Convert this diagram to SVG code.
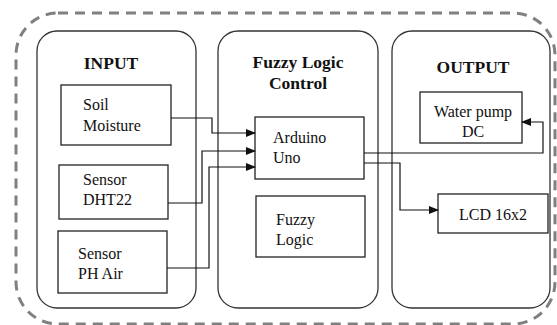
<svg xmlns="http://www.w3.org/2000/svg" width="557" height="325" viewBox="0 0 557 325">
<style>
.panel{fill:#fff;stroke:#333;stroke-width:1.3}
.box{fill:#fff;stroke:#222;stroke-width:1.3}
.t{font-family:'Liberation Serif','DejaVu Serif',serif;font-size:16px;fill:#111}
.h{font-family:'Liberation Serif','DejaVu Serif',serif;font-size:17.5px;font-weight:bold;fill:#111}
.c{fill:none;stroke:#111;stroke-width:1.2}
</style>
<defs>
<marker id="ah" markerWidth="10" markerHeight="8" refX="9" refY="4" orient="auto" markerUnits="userSpaceOnUse">
<path d="M0,0 L10,4 L0,8 Z" fill="#111"/>
</marker>
</defs>
<rect width="557" height="325" fill="#fff"/>
<rect id="outer" x="16" y="13" width="539" height="311" rx="42" fill="none" stroke="#808080" stroke-width="3" stroke-dasharray="10,7"/>
<g id="panel-input"><rect class="panel" x="37" y="31" width="159" height="277" rx="20"/><text class="h" x="111" y="69" text-anchor="middle">INPUT</text></g>
<g id="panel-fuzzy"><rect class="panel" x="218" y="31" width="160" height="277" rx="20"/><text class="h" x="298" y="68" text-anchor="middle">Fuzzy Logic</text><text class="h" x="298" y="89" text-anchor="middle">Control</text></g>
<g id="panel-output"><rect class="panel" x="392" y="31" width="158" height="277" rx="20"/><text class="h" x="473" y="73" text-anchor="middle">OUTPUT</text></g>
<g id="soil"><rect class="box" x="61" y="85" width="110" height="60"/><text class="t" x="83" y="110">Soil</text><text class="t" x="83" y="131">Moisture</text></g>
<g id="dht22"><rect class="box" x="59" y="165" width="109" height="54"/><text class="t" x="83" y="185">Sensor</text><text class="t" x="83" y="205">DHT22</text></g>
<g id="ph"><rect class="box" x="58" y="231" width="109" height="62"/><text class="t" x="78" y="259">Sensor</text><text class="t" x="78" y="279">PH Air</text></g>
<g id="arduino"><rect class="box" x="255" y="117" width="109" height="62"/><text class="t" x="273" y="143">Arduino</text><text class="t" x="273" y="163">Uno</text></g>
<g id="fuzzy"><rect class="box" x="256" y="196" width="109" height="61"/><text class="t" x="276" y="225">Fuzzy</text><text class="t" x="276" y="245">Logic</text></g>
<g id="pump"><rect class="box" x="420" y="92" width="102" height="51"/><text class="t" x="473" y="117" text-anchor="middle">Water pump</text><text class="t" x="473" y="137" text-anchor="middle">DC</text></g>
<g id="lcd"><rect class="box" x="438" y="194" width="110" height="39"/><text class="t" x="493" y="220" text-anchor="middle">LCD 16x2</text></g>
<g id="connectors">
<path class="c" d="M171,118 H212 V133 H255" marker-end="url(#ah)"/>
<path class="c" d="M168,203 H202 V151 H255" marker-end="url(#ah)"/>
<path class="c" d="M167,268 H209 V167 H255" marker-end="url(#ah)"/>
<path class="c" d="M364,153 H543 V122 H522" marker-end="url(#ah)"/>
<path class="c" d="M364,163 H400 V210 H438" marker-end="url(#ah)"/>
</g>
</svg>
